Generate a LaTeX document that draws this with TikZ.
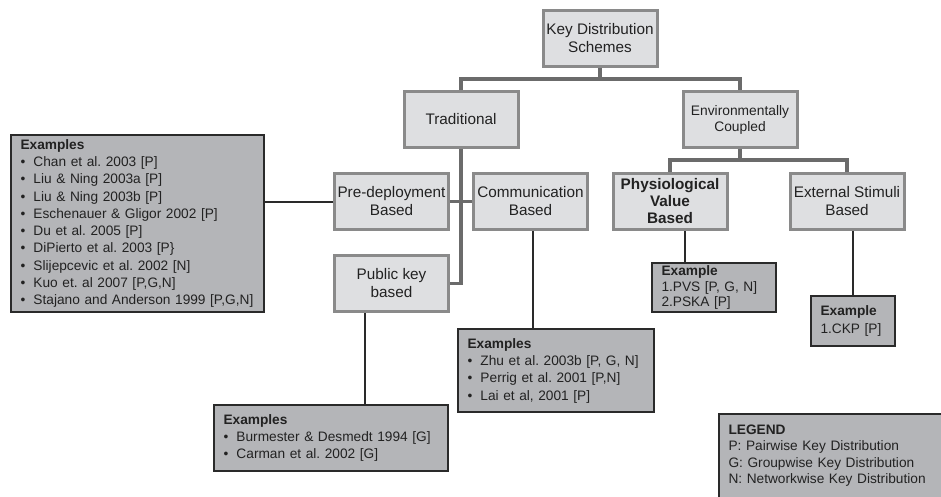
\documentclass[tikz,border=0pt]{standalone}
\usepackage{fontspec}
\setmainfont{Liberation Sans}
\usepackage{xcolor}
\usetikzlibrary{positioning}
\definecolor{catfill}{HTML}{DEDFE1}
\definecolor{catline}{HTML}{8A8A8A}
\definecolor{treeline}{HTML}{6B6B6B}
\definecolor{exfill}{HTML}{B4B5B8}
\definecolor{exline}{HTML}{2A2A2A}
\definecolor{inkcol}{HTML}{222222}
\newcommand{\bul}{\makebox[13pt][l]{\textbullet}}
\frenchspacing

\begin{document}
\begin{tikzpicture} [x=1pt, y=-1pt,
    cat/.style={draw=catline, fill=catfill, line width=3pt, rectangle, minimum width=114pt, minimum height=56pt, inner sep=1pt, align=center, text=inkcol, font=\fontsize{15.3}{18}\selectfont},
    exbox/.style={draw=exline, fill=exfill, line width=2pt, rectangle, anchor=north west, align=left, inner xsep=9.5pt, inner ysep=2pt, text=inkcol, font=\fontsize{13.7}{17.3}\selectfont},
    tree/.style={treeline, line width=3.5pt},
    link/.style={exline, line width=2pt}]
    \clip (0,0) rectangle (941,496);

    \node (kds) [cat] at (600,38) {Key Distribution\\Schemes};
    \node (trad) [cat] at (461,119.5) {Traditional};
    \node (env) [cat, right = 162pt of trad, font=\fontsize{13.8}{16}\selectfont] {Environmentally\\Coupled};
    \node (pre) [cat] at (391.5,201.5) {Pre-deployment\\Based};
    \node (comm) [cat, right = 22pt of pre] {Communication\\Based};
    \node (pub) [cat, below = 23pt of pre] {Public key\\based};
    \node (phys) [cat, font=\bfseries\fontsize{15.3}{17}\selectfont] at (670,201.5) {Physiological\\Value\\Based};
    \node (ext) [cat, right = 60pt of phys] {External Stimuli\\Based};

    \node (expre) [exbox, text width=234pt, minimum height=177pt] at (10,134) {
      \textbf{Examples}\\
      \bul Chan et al. 2003 [P]\\
      \bul Liu \& Ning 2003a [P]\\
      \bul Liu \& Ning 2003b [P]\\
      \bul Eschenauer \& Gligor 2002 [P]\\
      \bul Du et al. 2005 [P]\\
      \bul DiPierto et al. 2003 [P\}\\
      \bul Slijepcevic et al. 2002 [N]\\
      \bul Kuo et. al 2007 [P,G,N]\\
      \bul Stajano and Anderson 1999 [P,G,N]
    };
    \node (expub) [exbox, text width=215pt, minimum height=66pt] at (213,404) {
      \textbf{Examples}\\
      \bul Burmester \& Desmedt 1994 [G]\\
      \bul Carman et al. 2002 [G]
    };
    \node (excomm) [exbox, text width=177pt, minimum height=83pt] at (457,328) {
      \textbf{Examples}\\
      \bul Zhu et al. 2003b [P, G, N]\\
      \bul Perrig et al. 2001 [P,N]\\
      \bul Lai et al, 2001 [P]
    };
    \node (exphys) [exbox, text width=105pt, minimum height=49pt, inner ysep=1pt, font=\fontsize{13.7}{15.5}\selectfont] at (651,262) {
      \textbf{Example}\\
      1.PVS [P, G, N]\\
      2.PSKA [P]
    };
    \node (exext) [exbox, text width=65pt, minimum height=50pt] at (810,295) {
      \textbf{Example}\\
      1.CKP [P]
    };
    \node (legend) [exbox, text width=250pt, inner ysep=11pt, font=\fontsize{13.7}{16.3}\selectfont] at (718,413) {
      \textbf{LEGEND}\\
      P: Pairwise Key Distribution\\
      G: Groupwise Key Distribution\\
      N: Networkwise Key Distribution\\[12pt]
      \mbox{}
    };

    \draw [tree] (trad.north) -- ++(0,-11) -| (env.north);
    \draw [tree] (kds.south) -- ++(0,11);
    \draw [tree] (trad.south) |- (pub.east);
    \draw [tree] (pre.east) -- (comm.west);
    \draw [tree] (phys.north) -- ++(0,-12) -| (ext.north);
    \draw [tree] (env.south) -- ++(0,11);

    \draw [link] (pre.west) -- (pre.west -| expre.east);
    \draw [link] ([xshift=2.5pt]comm.south) -- ([xshift=2.5pt]comm.south |- excomm.north);
    \draw [link] ([xshift=-27pt]pub.south) -- ([xshift=-27pt]pub.south |- expub.north);
    \draw [link] ([xshift=15pt]phys.south) -- ([xshift=15pt]phys.south |- exphys.north);
    \draw [link] (ext.south -| exext.north) -- (exext.north);
\end{tikzpicture}
\end{document}
